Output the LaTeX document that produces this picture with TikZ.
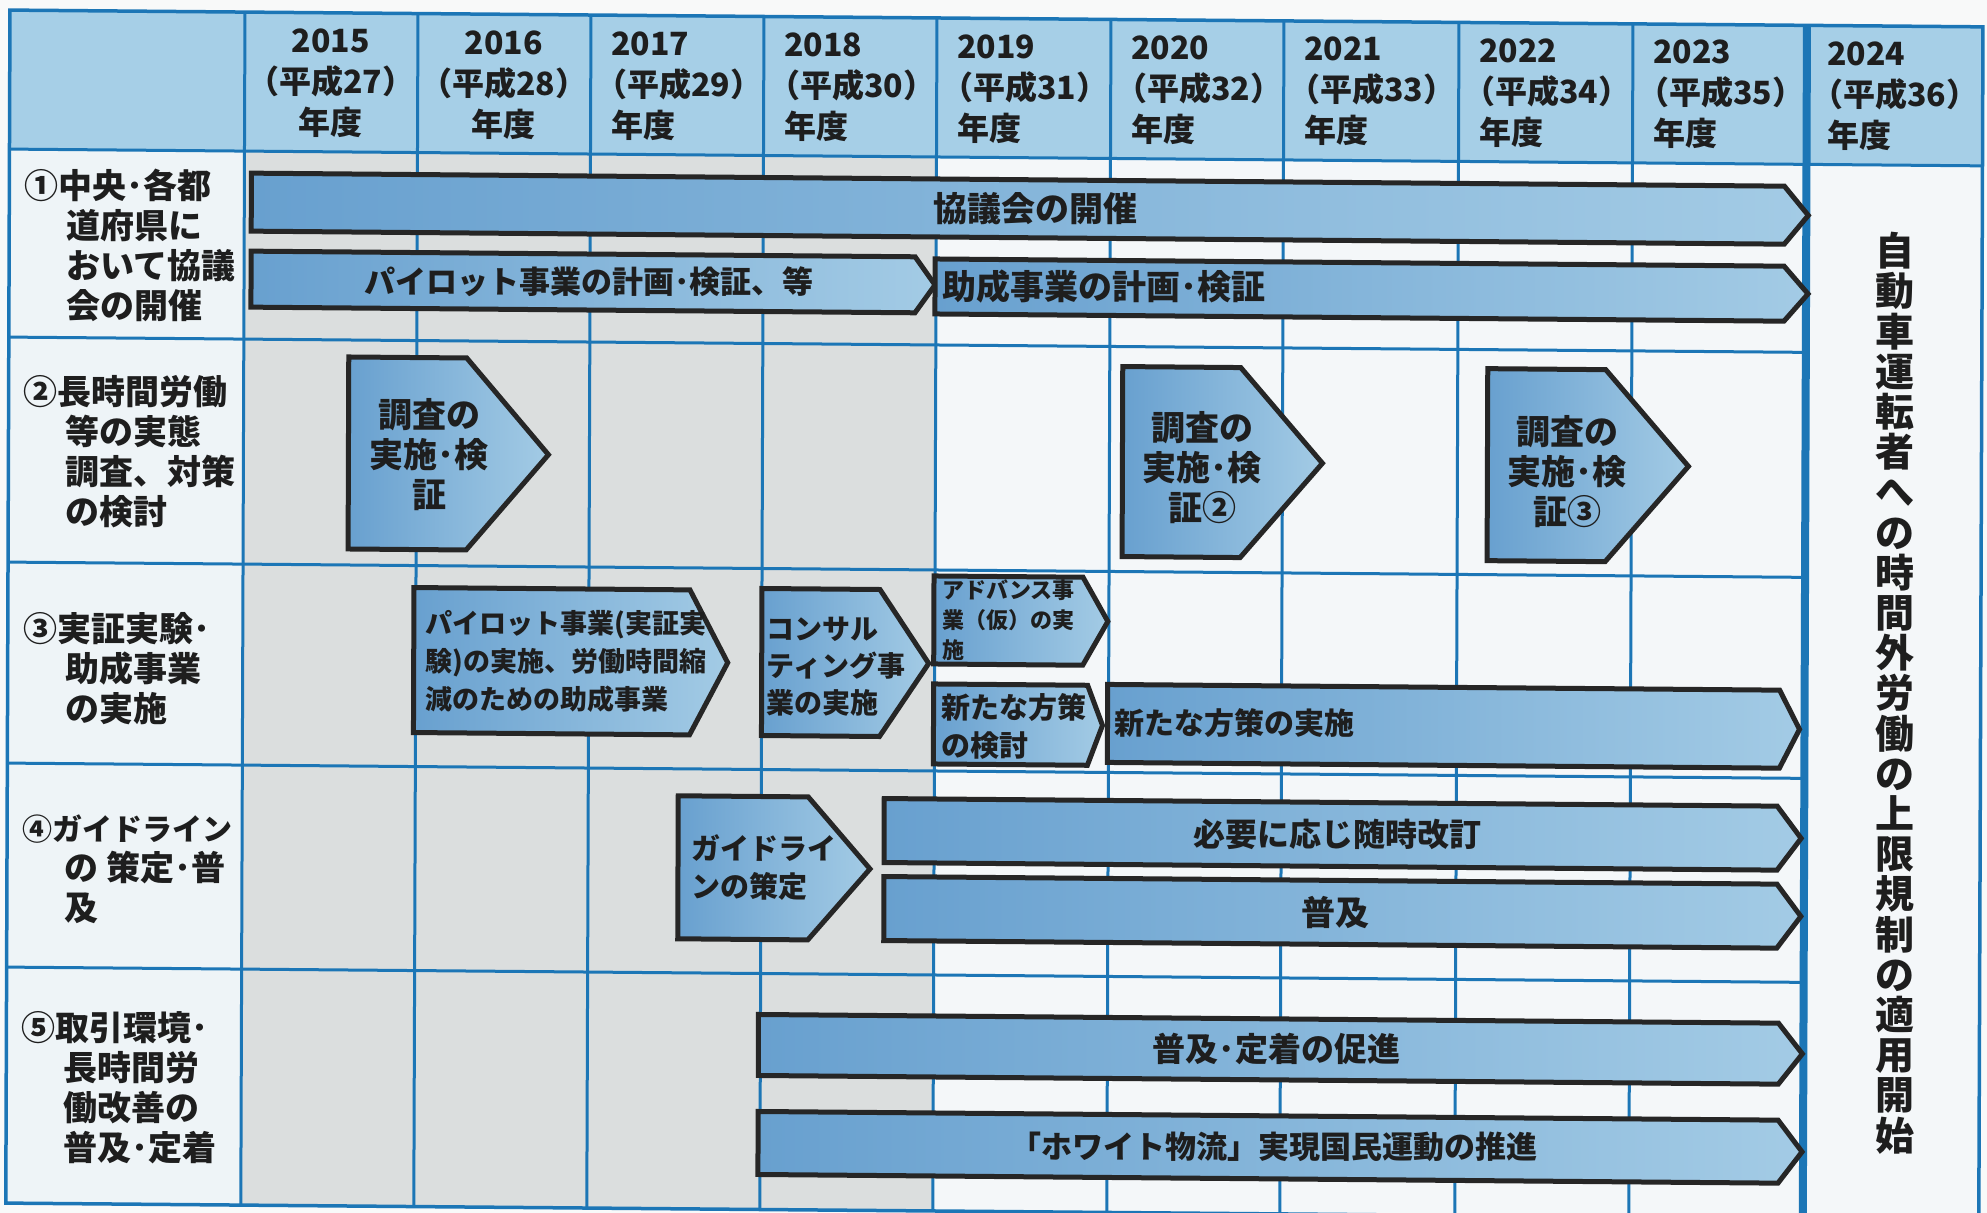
\documentclass[tikz,border=0pt]{standalone}
\usepackage{fontspec}
\setmainfont{Noto Sans CJK JP}
\definecolor{hdrblue}{RGB}{166,207,231}
\definecolor{labbg}{RGB}{238,244,247}
\definecolor{graybg}{RGB}{219,222,222}
\definecolor{whitebg}{RGB}{244,247,249}
\definecolor{pagebg}{RGB}{248,249,249}
\definecolor{gridblue}{RGB}{28,118,182}
\definecolor{barL}{RGB}{104,160,207}
\definecolor{barR}{RGB}{163,203,229}
\definecolor{barline}{RGB}{38,38,38}
\definecolor{txt}{RGB}{30,30,30}
\newcommand\mybar[6]{%
  \draw[barshape] (#2,#3) -- ({#4-#6},#3) -- (#4,{(#3+#5)/2}) -- ({#4-#6},#5) -- (#2,#5) -- cycle;
  \coordinate (#1) at ({(#2+#4)/2},{(#3+#5)/2});}
\newcommand\hy[2]{#1\\\hspace*{-0.5em}（平成#2）\\年度}
\begin{document}
\begin{tikzpicture}[x=1pt,y=-1pt,
  gridline/.style={draw=gridblue, line width=3pt},
  barshape/.style={draw=barline, line width=5pt, line join=miter, left color=barL, right color=barR},
  hdrtxt/.style={font=\bfseries\fontsize{32}{41}\selectfont, text=txt, inner sep=0pt},
  rowlab/.style={font=\bfseries\fontsize{34}{40}\selectfont, text=txt, align=left, inner sep=0pt, anchor=north west},
  bartxt/.style={font=\bfseries\fontsize{33}{36}\selectfont, text=txt, inner sep=0pt},
  vtxt/.style={font=\bfseries\fontsize{39}{40.2}\selectfont, text=txt, align=center, inner sep=0pt}]
\useasboundingbox (0,0) rectangle (1987,1213);
\fill[pagebg] (-20,-20) rectangle (2010,1230);
\begin{scope}[cm={1,-0.0085,0.0035,1,(0,0)}]
% backgrounds
\fill[hdrblue] (10,10) rectangle (1983,149);
\fill[labbg] (10,149) rectangle (245,1203);
\fill[graybg] (245,149) rectangle (937,1203);
\fill[whitebg] (937,149) rectangle (1983,1203);
% grid
\foreach \gx in {245,418,591,764,937,1111,1284,1459,1633}
  \draw[gridline] (\gx,10) -- (\gx,1203);
\foreach \gy in {337,562,763,967}
  \draw[gridline] (10,\gy) -- (1807,\gy);
\draw[gridline] (10,149) -- (1983,149);
\draw[draw=gridblue, line width=8pt] (1807,10) -- (1807,1203);
\draw[gridline, line width=3.5pt] (10,10) rectangle (1983,1203);
% header
\node[hdrtxt, align=center, anchor=north] (h2015) at (331,26) {2015\\（平成27）\\年度};
\node[hdrtxt, align=center, anchor=north] (h2016) at (504,26) {2016\\（平成28）\\年度};
\node[hdrtxt, align=left, anchor=north west] (h2017) at (611,26) {\hy{2017}{29}};
\node[hdrtxt, align=left, anchor=north west] (h2018) at (784,26) {\hy{2018}{30}};
\node[hdrtxt, align=left, anchor=north west] (h2019) at (957,26) {\hy{2019}{31}};
\node[hdrtxt, align=left, anchor=north west] (h2020) at (1131,26) {\hy{2020}{32}};
\node[hdrtxt, align=left, anchor=north west] (h2021) at (1304,26) {\hy{2021}{33}};
\node[hdrtxt, align=left, anchor=north west] (h2022) at (1479,26) {\hy{2022}{34}};
\node[hdrtxt, align=left, anchor=north west] (h2023) at (1653,26) {\hy{2023}{35}};
\node[hdrtxt, align=left, anchor=north west] (h2024) at (1827,26) {\hy{2024}{36}};
% row labels
\node[rowlab] (r1) at (25,169) {①中央･各都\\\hspace*{42pt}道府県に\\\hspace*{42pt}おいて協議\\\hspace*{42pt}会の開催};
\node[rowlab] (r2) at (25,375) {②長時間労働\\\hspace*{42pt}等の実態\\\hspace*{42pt}調査、対策\\\hspace*{42pt}の検討};
\node[rowlab] (r3) at (25,612) {③実証実験･\\\hspace*{42pt}助成事業\\\hspace*{42pt}の実施};
\node[rowlab] (r4) at (25,814) {{\fontsize{30}{40}\selectfont ④ガイドライン}\\\hspace*{42pt}の 策定･普\\\hspace*{42pt}及};
\node[rowlab] (r5) at (25,1011) {⑤取引環境･\\\hspace*{42pt}長時間労\\\hspace*{42pt}働改善の\\\hspace*{42pt}普及･定着};
% row 1
\mybar{b1}{252}{171}{1809}{229}{24}
\mybar{b2}{252}{249}{936}{305}{20}
\mybar{b3}{936}{251}{1809}{306}{24}
\node[bartxt, font=\bfseries\fontsize{34}{36}\selectfont] (t1) at (1036,200) {協議会の開催};
\node[bartxt, font=\bfseries\fontsize{31}{36}\selectfont] (t2) at (590,277) {パイロット事業の計画･検証、等};
\node[bartxt, anchor=west, font=\bfseries\fontsize{34}{36}\selectfont] (t3) at (943,279) {助成事業の計画･検証};
% row 2
\mybar{p1}{350}{354}{550}{546}{82}
\mybar{p2}{1124}{357}{1324}{547}{82}
\mybar{p3}{1489}{356}{1690}{548}{83}
\node[bartxt, align=center, font=\bfseries\fontsize{34}{40}\selectfont] (tp1) at (431,451) {調査の\\実施･検\\証};
\node[bartxt, align=center, font=\bfseries\fontsize{34}{40}\selectfont] (tp2) at (1204,457) {調査の\\実施･検\\証②};
\node[bartxt, align=center, font=\bfseries\fontsize{34}{40}\selectfont] (tp3) at (1569,458) {調査の\\実施･検\\証③};
% row 3
\mybar{q1}{416}{584}{730}{729}{38}
\mybar{q2}{764}{582}{931}{729}{49}
\mybar{q3}{936}{568}{1110}{656}{25}
\mybar{q4}{936}{676}{1105}{756}{15}
\mybar{q5}{1110}{675}{1802}{753}{20}
\node[bartxt, anchor=west, align=left, font=\bfseries\fontsize{27}{38}\selectfont] (tq1) at (428,658) {パイロット事業(実証実\\験)の実施、労働時間縮\\減のための助成事業};
\node[bartxt, anchor=west, align=left, font=\bfseries\fontsize{28}{37}\selectfont] (tq2) at (769,660) {コンサル\\ティング事\\業の実施};
\node[bartxt, anchor=west, align=left, font=\bfseries\fontsize{22}{30}\selectfont] (tq3) at (944,612) {アドバンス事\\業（仮）の実\\施};
\node[bartxt, anchor=west, align=left, font=\bfseries\fontsize{29}{38}\selectfont] (tq4) at (944,718) {新たな方策\\の検討};
\node[bartxt, anchor=west, font=\bfseries\fontsize{30}{36}\selectfont] (tq5) at (1117,714) {新たな方策の実施};
% row 4
\mybar{g1}{681}{790}{873}{933}{62}
\mybar{g2}{887}{791}{1804}{855}{24}
\mybar{g3}{887}{869}{1804}{933}{24}
\node[bartxt, anchor=west, align=left, font=\bfseries\fontsize{29}{38}\selectfont] (tg1) at (694,862) {ガイドライ\\ンの策定};
\node[bartxt, font=\bfseries\fontsize{32}{36}\selectfont] (tg2) at (1340,823) {必要に応じ随時改訂};
\node[bartxt, font=\bfseries\fontsize{34}{36}\selectfont] (tg3) at (1339,901) {普及};
% row 5
\mybar{s1}{762}{1008}{1806}{1069}{24}
\mybar{s2}{762}{1105}{1806}{1168}{24}
\node[bartxt] (ts1) at (1280,1038) {普及･定着の促進};
\node[bartxt, font=\bfseries\fontsize{31}{36}\selectfont] (ts2) at (1278,1136) {「ホワイト物流」実現国民運動の推進};
% 2024 column
\node[vtxt] (v) at (1897,677) {自\\動\\車\\運\\転\\者\\へ\\の\\時\\間\\外\\労\\働\\の\\上\\限\\規\\制\\の\\適\\用\\開\\始};
\end{scope}
\end{tikzpicture}
\end{document}
